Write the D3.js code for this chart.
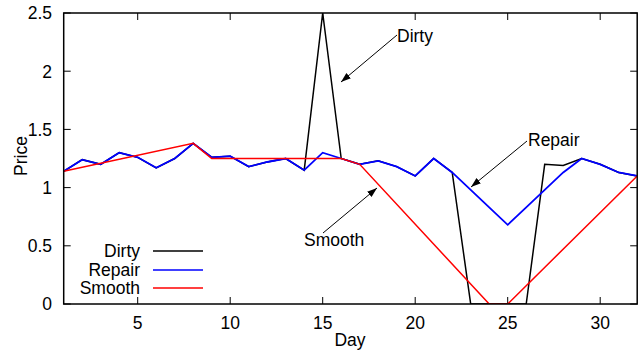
<!DOCTYPE html>
<html>
<head>
<meta charset="utf-8">
<script src="https://cdn.jsdelivr.net/npm/d3@7"></script>
<style>
  html, body { margin: 0; padding: 0; background: #fff; }
  svg { display: block; font-family: "Liberation Sans", Arial, sans-serif; }
</style>
</head>
<body>
<svg id="chart" width="642" height="352"></svg>
<script>
// Daily price series
const days = [1,2,3,4,5,6,7,8,9,10,11,12,13,14,15,16,17,18,19,20,21,22,23,24,25,26,27,28,29,30,31,32];
const dirty = [1.14,1.24,1.20,1.30,1.26,1.17,1.25,1.38,1.26,1.27,1.18,1.22,1.25,1.15,2.50,1.25,1.20,1.23,1.18,1.10,1.25,1.13,0,0,0,0,1.20,1.19,1.25,1.20,1.13,1.10];
const repair = [1.14,1.24,1.20,1.30,1.26,1.17,1.25,1.38,1.26,1.27,1.18,1.22,1.25,1.15,1.30,1.25,1.20,1.23,1.18,1.10,1.25,1.13,0.98,0.83,0.68,0.83,0.98,1.13,1.25,1.20,1.13,1.10];
// Smoothed series given at its break points
const smoothDays = [1,8,9,16,17,24,25,32];
const smoothValues = [1.14,1.38,1.25,1.25,1.20,0,0,1.10];

const xTicks = [5,10,15,20,25,30];
const yTicks = [0,0.5,1,1.5,2,2.5];
const seriesNames = ["Dirty","Repair","Smooth"];
const seriesColors = ["#000000","#0000ff","#ff0000"];

const fontSize = 17.5;
const svg = d3.select("#chart");
const plotLeft = 63.7, plotRight = 637.2, plotTop = 13, plotBottom = 304;
const x = d3.scaleLinear().domain([1,32]).range([plotLeft,plotRight]);
const y = d3.scaleLinear().domain([0,2.5]).range([plotBottom,plotTop]);

// Mirrored inward ticks on all four sides
const tickLen = 7;
const g = svg.append("g");
xTicks.forEach(t => {
  g.append("line").attr("x1",x(t)).attr("x2",x(t)).attr("y1",plotBottom).attr("y2",plotBottom-tickLen).attr("stroke","#000");
  g.append("line").attr("x1",x(t)).attr("x2",x(t)).attr("y1",plotTop).attr("y2",plotTop+tickLen).attr("stroke","#000");
  g.append("text").attr("x",x(t)).attr("y",329).attr("text-anchor","middle").attr("font-size",fontSize).text(t);
});
yTicks.forEach(t => {
  g.append("line").attr("x1",plotLeft).attr("x2",plotLeft+tickLen).attr("y1",y(t)).attr("y2",y(t)).attr("stroke","#000");
  g.append("line").attr("x1",plotRight).attr("x2",plotRight-tickLen).attr("y1",y(t)).attr("y2",y(t)).attr("stroke","#000");
  g.append("text").attr("x",52).attr("y",y(t)).attr("dy","0.36em").attr("text-anchor","end").attr("font-size",fontSize).text(d3.format("~g")(t));
});

// Axis titles
svg.append("text").attr("x",350).attr("y",346).attr("text-anchor","middle").attr("font-size",fontSize).text("Day");
svg.append("text").attr("transform","translate(27,156) rotate(-90)").attr("text-anchor","middle").attr("font-size",fontSize).text("Price");

// Data lines, clipped to the plot area
svg.append("clipPath").attr("id","plotclip").append("rect")
  .attr("x",plotLeft).attr("y",plotTop-1).attr("width",plotRight-plotLeft).attr("height",plotBottom-plotTop+1);
const line = d3.line().x(d => x(d[0])).y(d => y(d[1]));
const plot = svg.append("g").attr("clip-path","url(#plotclip)");
plot.append("path").datum(days.map((d,i)=>[d,dirty[i]]))
  .attr("d",line).attr("fill","none").attr("stroke",seriesColors[0]).attr("stroke-width",1.5);
plot.append("path").datum(days.map((d,i)=>[d,repair[i]]))
  .attr("d",line).attr("fill","none").attr("stroke",seriesColors[1]).attr("stroke-width",1.8);
plot.append("path").datum(smoothDays.map((d,i)=>[d,smoothValues[i]]))
  .attr("d",line).attr("fill","none").attr("stroke",seriesColors[2]).attr("stroke-width",1.5);

// Frame
svg.append("rect").attr("x",plotLeft).attr("y",plotTop).attr("width",plotRight-plotLeft).attr("height",plotBottom-plotTop)
  .attr("fill","none").attr("stroke","#000").attr("stroke-width",1.5);

// Legend
const legendRows = [251,270,288];
seriesNames.forEach((name,i) => {
  svg.append("text").attr("x",140).attr("y",legendRows[i]).attr("dy","0.36em")
    .attr("text-anchor","end").attr("font-size",fontSize).text(name);
  svg.append("line").attr("x1",153).attr("x2",203).attr("y1",legendRows[i]).attr("y2",legendRows[i])
    .attr("stroke",seriesColors[i]).attr("stroke-width",1.5);
});

// Annotations with arrows
svg.append("defs").append("marker").attr("id","arrowhead")
  .attr("viewBox","0 0 10 10").attr("refX",10).attr("refY",5)
  .attr("markerWidth",10).attr("markerHeight",10).attr("markerUnits","userSpaceOnUse")
  .attr("orient","auto")
  .append("path").attr("d","M0,1.5 L10,5 L0,8.5 Z").attr("fill","#000");

const notes = [
  {text:"Dirty", tx:397, ty:42, from:[397,35], to:[341,82]},
  {text:"Repair", tx:528, ty:146, from:[527,141], to:[471,187]},
  {text:"Smooth", tx:304, ty:246, from:[323,233], to:[377,188]}
];
notes.forEach(n => {
  svg.append("line").attr("x1",n.from[0]).attr("y1",n.from[1]).attr("x2",n.to[0]).attr("y2",n.to[1])
    .attr("stroke","#000").attr("stroke-width",1).attr("marker-end","url(#arrowhead)");
  svg.append("text").attr("x",n.tx).attr("y",n.ty).attr("font-size",fontSize).text(n.text);
});
</script>
</body>
</html>
